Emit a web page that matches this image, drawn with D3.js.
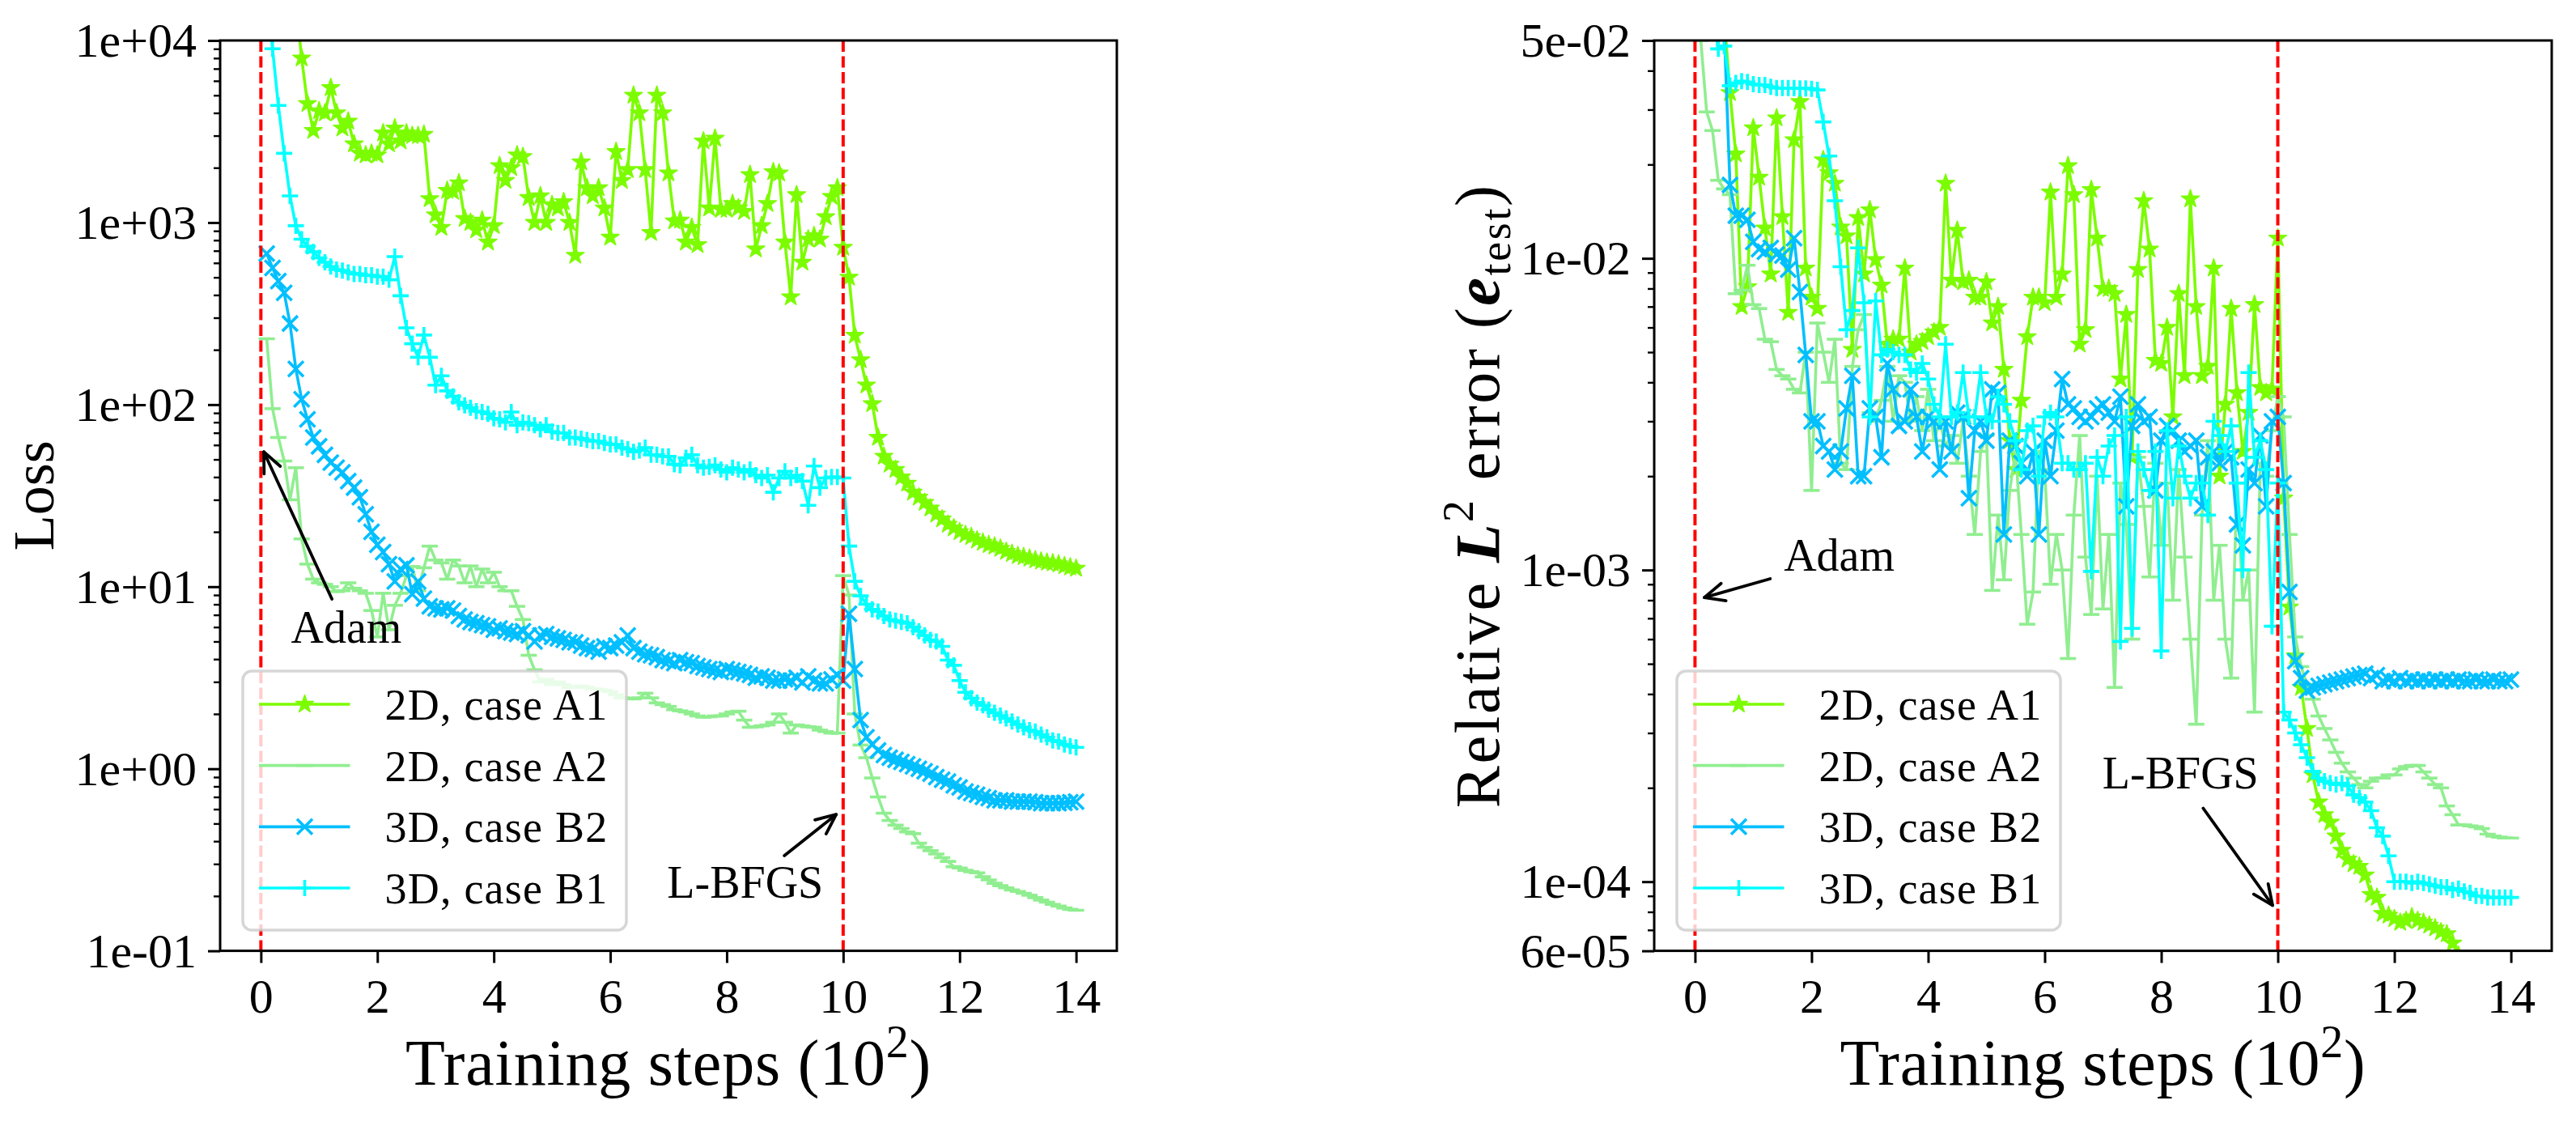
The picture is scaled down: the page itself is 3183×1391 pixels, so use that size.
<!DOCTYPE html>
<html>
<head>
<meta charset="utf-8">
<script src="https://cdn.jsdelivr.net/npm/d3@7"></script>
<style>
  html, body { margin: 0; padding: 0; background: #fff; }
  svg text { font-family: "Liberation Serif", "Times New Roman", serif; fill: #000; }
</style>
</head>
<body>
<div id="chart"></div>
<script>
// one record every 10 training steps, i.e. 0.1 in units of 10^2 steps; first record at 0.1
const STEP = 0.1;
const xTicks = [0, 2, 4, 6, 8, 10, 12, 14];
const phaseSwitch = [0, 10];
const lossTicks = [1e-1, 1e0, 1e1, 1e2, 1e3, 1e4];
const lossTickLabels = ["1e-01", "1e+00", "1e+01", "1e+02", "1e+03", "1e+04"];
const errTicks = [6e-5, 1e-4, 1e-3, 1e-2, 5e-2];
const errTickLabels = ["6e-05", "1e-04", "1e-03", "1e-02", "5e-02"];
const seriesNames = ["2D, case A1", "2D, case A2", "3D, case B2", "3D, case B1"];

// ---- Loss ----
const lossA1 = [
  90000, 60000, 45000, 35000, 25000, 16000, 8000, 4500, 3200, 4100,
  4000, 5500, 4000, 3300, 3600, 2700, 2400, 2350, 2400, 2350,
  3100, 2700, 3300, 2800, 3100, 3000, 3000, 3050, 1350, 1100,
  940, 1500, 1480, 1650, 1050, 1000, 910, 1030, 780, 960,
  2050, 1700, 2000, 2350, 2300, 1370, 1000, 1400, 1000, 1250,
  1200, 1300, 1000, 660, 2150, 1550, 1400, 1550, 1200, 830,
  2450, 1700, 1950, 5000, 4000, 1950, 880, 5000, 4000, 1870,
  1020, 1030, 780, 940, 755, 2800, 1200, 2900, 1180, 1180,
  1270, 1200, 1150, 1830, 715, 960, 1270, 1900, 1870, 780,
  390, 1420, 605, 810, 845, 810, 1075, 1390, 1550, 730,
  500, 240, 176, 128, 101, 66, 52, 47, 44, 40,
  37, 33, 31, 29, 27, 25, 23.5, 22, 21, 20,
  19.3, 18.8, 18, 17.5, 17, 16.7, 16.2, 15.6, 15.2, 14.8,
  14.6, 14.3, 14.0, 13.8, 13.6, 13.5, 13.3, 13.0, 12.8, 12.6
];
const lossA2 = [
  230, 95, 66, 49, 30, 45, 18.3, 13.3, 11, 10.5,
  10.3, 10, 9.4, 9.5, 10.5, 9.8, 9.5, 9.2, 7.4, 5.3,
  9.2, 5.8, 7.9, 9.2, 11.5, 12.9, 9.5, 12.7, 16.7, 14,
  13.5, 11, 14, 13, 10.5, 13, 10, 12.5, 10.5, 12,
  10, 9.5, 9.5, 7.8, 6.6, 4.2, 3.5, 3.0, 3.1, 2.9,
  3.0, 2.9, 2.8, 2.8, 2.85, 2.8, 2.75, 2.73, 2.7, 2.65,
  2.55, 2.45, 2.44, 2.42, 2.45, 2.6, 2.45, 2.3, 2.25, 2.2,
  2.11, 2.08, 2.05, 2.0, 1.95, 1.92, 1.93, 1.95, 1.95, 2.0,
  2.05, 2.07, 1.85, 1.69, 1.7, 1.72, 1.74, 1.8, 2.0, 1.8,
  1.57, 1.74, 1.72, 1.7, 1.69, 1.63, 1.6, 1.57, 1.57, 11.5,
  9.0, 2.0, 1.35, 1.15, 0.89, 0.70, 0.57, 0.52, 0.49, 0.47,
  0.45, 0.44, 0.39, 0.37, 0.355, 0.34, 0.325, 0.31, 0.29, 0.285,
  0.277, 0.272, 0.268, 0.255, 0.245, 0.235, 0.228, 0.222, 0.216, 0.212,
  0.207, 0.202, 0.196, 0.19, 0.185, 0.18, 0.176, 0.172, 0.169, 0.167
];
const lossB2 = [
  676, 563, 477, 411, 279, 157, 107, 83, 66, 59,
  53, 48, 45, 42.5, 38, 35, 31, 25, 20, 17,
  15.5, 13.3, 10.7, 12.5, 13.1, 9.1, 10.7, 8.6, 7.8, 7.6,
  7.5, 7.6, 7.4, 6.9, 6.6, 6.4, 6.3, 6.15, 6.05, 5.8,
  5.9, 5.7, 5.6, 5.5, 5.7, 5.4, 5.0, 5.4, 5.5, 5.3,
  5.2, 5.1, 4.95, 4.95, 4.75, 4.6, 4.55, 4.4, 4.7, 4.6,
  4.75, 4.95, 5.4, 4.6, 4.4, 4.25, 4.2, 4.1, 3.95, 3.9,
  3.8, 3.95, 3.85, 3.8, 3.67, 3.6, 3.53, 3.47, 3.4, 3.53,
  3.47, 3.4, 3.34, 3.28, 3.16, 3.22, 3.16, 3.05, 3.05, 3.1,
  3.05, 3.16, 2.98, 3.22, 3.05, 2.94, 2.94, 3.1, 3.28, 3.05,
  7.1, 3.53, 1.85, 1.49, 1.36, 1.26, 1.19, 1.15, 1.12, 1.09,
  1.06, 1.03, 1.0, 0.97, 0.94, 0.90, 0.87, 0.85, 0.81, 0.79,
  0.75, 0.735, 0.72, 0.70, 0.69, 0.67, 0.67, 0.67, 0.66, 0.66,
  0.66, 0.66, 0.655, 0.647, 0.647, 0.647, 0.647, 0.65, 0.655, 0.66
];
const lossB1 = [
  20000, 9000, 4400, 2400, 1400, 960, 810, 740, 690, 640,
  605, 573, 552, 545, 532, 522, 522, 513, 513, 505,
  505, 485, 650, 396, 264, 216, 182, 241, 182, 128,
  144, 119, 111, 103, 99, 96, 92, 91, 89, 84,
  83, 80, 91, 77, 80, 79, 77, 73, 77, 71,
  70, 70, 66, 66, 65, 64, 63, 63, 61.5, 60.5,
  60.5, 58, 57, 55, 56, 58, 53, 53, 52, 52,
  47, 46.5, 51, 53, 46.5, 45, 45.5, 46.5, 44, 42.5,
  45, 44, 42.5, 44, 41, 39.5, 41, 33, 39.5, 43,
  39.5, 41, 38, 28, 46, 35, 39.5, 40, 40, 39.5,
  16.7, 10.7, 8.9, 8.0, 7.5, 7.3, 6.9, 6.6, 6.5, 6.4,
  6.3, 6.0, 5.7, 5.4, 5.1, 5.0, 4.7, 3.95, 3.7, 3.05,
  2.63, 2.44, 2.31, 2.23, 2.11, 2.03, 1.96, 1.89, 1.82, 1.75,
  1.69, 1.63, 1.6, 1.54, 1.49, 1.43, 1.41, 1.36, 1.33, 1.31
];

// ---- Relative L2 error ----
const errA1 = [
  0.2, 0.15, 0.1, 0.08, 0.06, 0.034, 0.0216, 0.0070, 0.0081, 0.0262,
  0.0182, 0.0125, 0.0089, 0.0282, 0.0136, 0.0067, 0.024, 0.0318, 0.0093, 0.0075,
  0.0069, 0.0207, 0.0188, 0.0174, 0.0126, 0.0118, 0.0051, 0.0135, 0.0089, 0.0143,
  0.0099, 0.0082, 0.0053, 0.0055, 0.0055, 0.0093, 0.0050, 0.0053, 0.0054, 0.0056,
  0.0058, 0.0060, 0.0174, 0.0085, 0.0123, 0.0084, 0.0085, 0.0075, 0.0075, 0.0084,
  0.0062, 0.0070, 0.0044, 0.0026, 0.0021, 0.0035, 0.0056, 0.0075, 0.0075, 0.0072,
  0.0163, 0.0075, 0.0089, 0.0198, 0.0160, 0.0053, 0.0059, 0.0166, 0.0116, 0.0080,
  0.0080, 0.0077, 0.0041, 0.0066, 0.0023, 0.0092, 0.0153, 0.0107, 0.0047, 0.0046,
  0.0060, 0.0031, 0.0077, 0.0042, 0.0155, 0.0070, 0.0042, 0.0045, 0.0093, 0.0020,
  0.0034, 0.0069, 0.0037, 0.0024, 0.0032, 0.0071, 0.00385, 0.0037, 0.0038, 0.0116,
  0.0017, 7.6e-4, 5.3e-4, 4.2e-4, 3.1e-4, 2.2e-4, 1.8e-4, 1.64e-4, 1.55e-4, 1.4e-4,
  1.26e-4, 1.18e-4, 1.14e-4, 1.12e-4, 1.05e-4, 9.1e-5, 8.9e-5, 7.9e-5, 7.8e-5, 7.6e-5,
  7.4e-5, 7.5e-5, 7.7e-5, 7.5e-5, 7.4e-5, 7.25e-5, 7.1e-5, 6.9e-5, 6.8e-5, 6.35e-5,
  5.8e-5, 5.4e-5
];
const errA2 = [
  0.05, 0.0295, 0.0257, 0.0178, 0.0167, 0.016, 0.0077, 0.0079, 0.0095, 0.0071,
  0.0069, 0.0055, 0.0054, 0.0044, 0.0042, 0.0041, 0.0038, 0.0037, 0.0050, 0.0018,
  0.0062, 0.0050, 0.0040, 0.0055, 0.0022, 0.0021, 0.0045, 0.0059, 0.0066, 0.0032,
  0.0030, 0.0035, 0.0045, 0.0030, 0.0042, 0.0040, 0.0030, 0.0036, 0.0028, 0.0038,
  0.0026, 0.0030, 0.0025, 0.0027, 0.0022, 0.0030, 0.0020, 0.0013, 0.0024, 0.0027,
  0.00086, 0.0015, 0.00093, 0.0018, 0.0024, 0.0013, 0.00067, 0.00085, 0.0024, 0.0021,
  0.00090, 0.0013, 0.0010, 0.00052, 0.0015, 0.0027, 0.0011, 0.00072, 0.0020, 0.00075,
  0.0013, 0.00042, 0.0019, 0.0014, 0.00060, 0.0023, 0.0016, 0.00095, 0.0022, 0.0012,
  0.0019, 0.00080, 0.0021, 0.0011, 0.00060, 0.00032, 0.0015, 0.0026, 0.00080, 0.0012,
  0.00060, 0.00045, 0.0019, 0.00080, 0.0010, 0.00035, 0.0022, 0.0020, 0.0028, 0.0036,
  0.0031, 0.0013, 6.1e-4, 4.9e-4, 4.3e-4, 3.85e-4, 3.4e-4, 3.1e-4, 2.85e-4, 2.6e-4,
  2.4e-4, 2.25e-4, 2.15e-4, 2.05e-4, 2.0e-4, 2.1e-4, 2.15e-4, 2.15e-4, 2.2e-4, 2.2e-4,
  2.3e-4, 2.34e-4, 2.36e-4, 2.36e-4, 2.25e-4, 2.15e-4, 2.05e-4, 2.0e-4, 1.75e-4, 1.64e-4,
  1.52e-4, 1.52e-4, 1.51e-4, 1.5e-4, 1.48e-4, 1.42e-4, 1.4e-4, 1.39e-4, 1.38e-4, 1.38e-4
];
const errB2 = [
  0.09, 0.08, 0.07, 0.065, 0.055, 0.0172, 0.0137, 0.0137, 0.0133, 0.0113,
  0.0107, 0.0105, 0.0108, 0.0103, 0.0102, 0.0092, 0.0116, 0.0078, 0.0049, 0.0030,
  0.0030, 0.0025, 0.0024, 0.0021, 0.0024, 0.0033, 0.0042, 0.0020, 0.0020, 0.0033,
  0.0031, 0.0023, 0.0046, 0.0038, 0.0029, 0.0030, 0.0038, 0.0031, 0.0024, 0.0031,
  0.0030, 0.0021, 0.0030, 0.0024, 0.0032, 0.0031, 0.0017, 0.0028, 0.0030, 0.0026,
  0.0038, 0.0037, 0.0013, 0.0026, 0.0025, 0.0022, 0.0020, 0.0024, 0.0013, 0.0026,
  0.0020, 0.0028, 0.0041, 0.0034, 0.0033, 0.0031, 0.0030, 0.0031, 0.0033, 0.0034,
  0.0032, 0.0030, 0.0036, 0.0016, 0.0029, 0.0034, 0.0030, 0.0031, 0.0018, 0.0026,
  0.0029, 0.0028, 0.0026, 0.0024, 0.0025, 0.0026, 0.0016, 0.0023, 0.0024, 0.0022,
  0.0024, 0.0023, 0.0014, 0.0012, 0.0021, 0.0019, 0.0027, 0.0016, 0.0030, 0.0031,
  0.0019, 8.5e-4, 5.1e-4, 4.5e-4, 4.1e-4, 4.2e-4, 4.25e-4, 4.3e-4, 4.35e-4, 4.4e-4,
  4.45e-4, 4.5e-4, 4.55e-4, 4.6e-4, 4.65e-4, 4.5e-4, 4.6e-4, 4.4e-4, 4.45e-4, 4.4e-4,
  4.5e-4, 4.4e-4, 4.45e-4, 4.4e-4, 4.45e-4, 4.4e-4, 4.45e-4, 4.4e-4, 4.45e-4, 4.4e-4,
  4.45e-4, 4.4e-4, 4.4e-4, 4.45e-4, 4.4e-4, 4.4e-4, 4.45e-4, 4.4e-4, 4.4e-4, 4.45e-4
];
const errB1 = [
  0.1, 0.08, 0.06, 0.047, 0.048, 0.0358, 0.0365, 0.037, 0.0368, 0.0362,
  0.036, 0.036, 0.0355, 0.0352, 0.0352, 0.0352, 0.0352, 0.0351, 0.0351, 0.035,
  0.0347, 0.0274, 0.0213, 0.0153, 0.0094, 0.0059, 0.0068, 0.0108, 0.0072, 0.0031,
  0.0073, 0.0049, 0.0051, 0.0050, 0.0049, 0.0049, 0.0044, 0.0043, 0.0046, 0.0041,
  0.0034, 0.0031, 0.0053, 0.0031, 0.0032, 0.0043, 0.0031, 0.0031, 0.0043, 0.0031,
  0.0030, 0.0036, 0.0034, 0.0030, 0.0026, 0.0021, 0.0028, 0.0029, 0.0020, 0.0031,
  0.0032, 0.0031, 0.0022, 0.0022, 0.0021, 0.0021, 0.0022, 0.00099, 0.0023, 0.0020,
  0.0025, 0.0027, 0.00059, 0.0031, 0.00065, 0.0024, 0.0021, 0.0018, 0.0024, 0.00055,
  0.0028, 0.0017, 0.0025, 0.0020, 0.0017, 0.0019, 0.0019, 0.0015, 0.0030, 0.0027,
  0.0024, 0.0029, 0.0019, 0.0010, 0.0043, 0.0023, 0.0026, 0.0021, 0.00066, 0.0019,
  3.5e-4, 3.3e-4, 3.0e-4, 2.75e-4, 2.5e-4, 2.26e-4, 2.15e-4, 2.1e-4, 2.07e-4, 2.05e-4,
  2.07e-4, 2.03e-4, 1.9e-4, 1.86e-4, 1.8e-4, 1.69e-4, 1.49e-4, 1.4e-4, 1.21e-4, 1.0e-4,
  1.0e-4, 1.0e-4, 9.9e-5, 1.0e-4, 9.9e-5, 9.8e-5, 9.7e-5, 9.6e-5, 9.6e-5, 9.4e-5,
  9.5e-5, 9.3e-5, 9.2e-5, 9.0e-5, 9.0e-5, 8.9e-5, 8.9e-5, 8.9e-5, 8.9e-5, 8.9e-5
];

// line styles, in legend order
const styles = [
  { color: "#7CFC00", marker: "star" },
  { color: "#90EE90", marker: "hline" },
  { color: "#00BFFF", marker: "cross" },
  { color: "#00FFFF", marker: "plus" }
];

const W = 3183, H = 1391;
const TICK_FONT = 60;

const panels = [
  {
    left: 272, right: 1380, top: 50, bottom: 1174.6,
    yDomain: [1e-1, 1e4], ticks: lossTicks, tickLabels: lossTickLabels,
    series: [lossA1, lossA2, lossB2, lossB1],
    ylabelX: 66,
    notes: [
      { text: "Adam", at: [1.467, 4.92], tail: [1.22, 8.55], head: [0.05, 55] },
      { text: "L-BFGS", at: [8.317, 0.195], tail: [8.99, 0.333], head: [9.88, 0.561] }
    ]
  },
  {
    left: 2044, right: 3153, top: 50, bottom: 1174.6,
    yDomain: [6e-5, 5e-2], ticks: errTicks, tickLabels: errTickLabels,
    series: [errA1, errA2, errB2, errB1],
    ylabelX: 1852,
    notes: [
      { text: "Adam", at: [2.474, 9.92e-4], tail: [1.29, 9.37e-4], head: [0.16, 8.16e-4] },
      { text: "L-BFGS", at: [8.33, 1.99e-4], tail: [8.72, 1.72e-4], head: [9.91, 8.4e-5] }
    ]
  }
];

const svg = d3.select("#chart").append("svg")
  .attr("width", W)
  .attr("height", H)
  .attr("viewBox", `0 0 ${W} ${H}`);

svg.append("rect").attr("width", W).attr("height", H).attr("fill", "#fff");

function markerPath(kind) {
  if (kind === "star") return d3.symbol(d3.symbolStar, 150)();
  if (kind === "plus") return "M-10,0H10M0,-10V10";
  if (kind === "cross") return "M-9.5,-9.5L9.5,9.5M-9.5,9.5L9.5,-9.5";
  return "M-10,0H10";
}

function drawMarkers(sel, style) {
  sel.attr("d", markerPath(style.marker))
    .attr("fill", style.marker === "star" ? style.color : "none")
    .attr("stroke", style.color)
    .attr("stroke-width", style.marker === "star" ? 1.5 : 3.6)
    .attr("stroke-linejoin", "round");
}

// stretch a text's letter spacing so it covers the width the reference shows
function fitWidth(sel, target) {
  const natural = sel.node().getComputedTextLength();
  const chars = sel.text().length;
  sel.attr("letter-spacing", ((target - natural) / chars).toFixed(2));
}

panels.forEach((p, pi) => {
  const x = d3.scaleLinear().domain([-0.7, 14.7]).range([p.left, p.right]);
  const y = d3.scaleLog().domain(p.yDomain).range([p.bottom, p.top]);
  const g = svg.append("g");

  const clipId = "clip" + pi;
  svg.append("clipPath").attr("id", clipId)
    .append("rect")
    .attr("x", p.left).attr("y", p.top)
    .attr("width", p.right - p.left).attr("height", p.bottom - p.top);

  const plot = g.append("g").attr("clip-path", `url(#${clipId})`);

  // data series
  p.series.forEach((vals, si) => {
    const st = styles[si];
    const pts = vals.map((v, i) => [STEP * (i + 1), v]);
    const sg = plot.append("g");
    sg.append("path")
      .datum(pts)
      .attr("fill", "none")
      .attr("stroke", st.color)
      .attr("stroke-width", 3.6)
      .attr("stroke-linejoin", "round")
      .attr("d", d3.line().x(d => x(d[0])).y(d => y(d[1])));
    sg.selectAll("path.m")
      .data(pts)
      .join("path")
      .attr("class", "m")
      .attr("transform", d => `translate(${x(d[0])},${y(d[1])})`)
      .call(drawMarkers, st);
  });

  // optimizer switch lines
  plot.selectAll("line.switch")
    .data(phaseSwitch)
    .join("line")
    .attr("class", "switch")
    .attr("x1", d => x(d)).attr("x2", d => x(d))
    .attr("y1", p.top).attr("y2", p.bottom)
    .attr("stroke", "#ff0000")
    .attr("stroke-width", 4)
    .attr("stroke-dasharray", "14,5.5");

  // annotations
  p.notes.forEach(n => {
    const hx = x(n.head[0]), hy = y(n.head[1]);
    const tx = x(n.tail[0]), ty = y(n.tail[1]);
    const ang = Math.atan2(hy - ty, hx - tx);
    const len = 27, spread = 0.42;
    g.append("line")
      .attr("x1", tx).attr("y1", ty).attr("x2", hx).attr("y2", hy)
      .attr("stroke", "#000").attr("stroke-width", 3.8).attr("stroke-linecap", "round");
    g.append("path")
      .attr("d", `M${hx - len * Math.cos(ang - spread)},${hy - len * Math.sin(ang - spread)}L${hx},${hy}L${hx - len * Math.cos(ang + spread)},${hy - len * Math.sin(ang + spread)}`)
      .attr("fill", "none").attr("stroke", "#000").attr("stroke-width", 3.8)
      .attr("stroke-linecap", "round").attr("stroke-linejoin", "round");
    g.append("text")
      .attr("x", x(n.at[0])).attr("y", y(n.at[1]))
      .attr("text-anchor", "middle")
      .attr("font-size", 56)
      .text(n.text);
  });

  // legend
  const lg = g.append("g");
  const lx = p.left + 28;
  lg.append("rect")
    .attr("x", lx).attr("y", 829)
    .attr("width", 474).attr("height", 320)
    .attr("rx", 11)
    .attr("fill", "#fff").attr("fill-opacity", 0.8)
    .attr("stroke", "#cccccc").attr("stroke-opacity", 0.8)
    .attr("stroke-width", 3.5);
  const rowY = d3.scalePoint().domain(seriesNames).range([870, 1097]);
  seriesNames.forEach((name, si) => {
    const st = styles[si];
    const ry = rowY(name);
    lg.append("line")
      .attr("x1", p.left + 48).attr("x2", p.left + 160.5)
      .attr("y1", ry).attr("y2", ry)
      .attr("stroke", st.color).attr("stroke-width", 3.6);
    lg.append("path")
      .attr("transform", `translate(${p.left + 104.5},${ry})`)
      .call(drawMarkers, st);
    const t = lg.append("text")
      .attr("x", p.left + 203.5).attr("y", ry + 19)
      .attr("font-size", 54)
      .text(name);
    fitWidth(t, 276);
  });

  // frame
  g.append("rect")
    .attr("x", p.left).attr("y", p.top)
    .attr("width", p.right - p.left).attr("height", p.bottom - p.top)
    .attr("fill", "none").attr("stroke", "#000").attr("stroke-width", 3);

  // x axis
  const xAxis = g.append("g")
    .attr("transform", `translate(0,${p.bottom})`)
    .call(d3.axisBottom(x).tickValues(xTicks).tickSizeInner(15).tickSizeOuter(0).tickPadding(18).tickFormat(d3.format("d")));
  xAxis.select(".domain").remove();
  xAxis.selectAll(".tick line").attr("stroke-width", 3);
  xAxis.selectAll(".tick text")
    .attr("font-size", TICK_FONT)
    .attr("font-family", "Liberation Serif")
    .attr("dy", "0.72em");

  // y axis, major ticks
  const yAxis = g.append("g")
    .attr("transform", `translate(${p.left},0)`)
    .call(d3.axisLeft(y).tickValues(p.ticks).tickSizeInner(15).tickSizeOuter(0).tickPadding(14)
      .tickFormat((d, i) => p.tickLabels[i]));
  yAxis.select(".domain").remove();
  yAxis.selectAll(".tick line").attr("stroke-width", 3);
  yAxis.selectAll(".tick text")
    .attr("font-size", TICK_FONT)
    .attr("font-family", "Liberation Serif")
    .attr("dy", "0.33em");

  // y axis, minor ticks
  const minor = y.ticks().filter(v => !p.ticks.some(t => Math.abs(t - v) / t < 1e-6));
  const yMinor = g.append("g")
    .attr("transform", `translate(${p.left},0)`)
    .call(d3.axisLeft(y).tickValues(minor).tickSizeInner(8).tickSizeOuter(0).tickFormat(""));
  yMinor.select(".domain").remove();
  yMinor.selectAll(".tick line").attr("stroke-width", 2.4);

  // x label
  const xl = g.append("text")
    .attr("x", (p.left + p.right) / 2).attr("y", 1340)
    .attr("text-anchor", "middle")
    .attr("font-size", 80);
  xl.append("tspan").text("Training steps (10");
  xl.append("tspan").attr("font-size", 56).attr("dy", -34).text("2");
  xl.append("tspan").attr("dy", 34).text(")");
  fitWidth(xl, 650);

  // y label
  const yl = g.append("text")
    .attr("transform", `translate(${p.ylabelX},${(p.top + p.bottom) / 2}) rotate(-90)`)
    .attr("text-anchor", "middle");
  if (pi === 0) {
    yl.attr("font-size", 72).text("Loss");
  } else {
    yl.attr("font-size", 78);
    yl.append("tspan").text("Relative ");
    yl.append("tspan").attr("font-style", "italic").attr("font-weight", "bold").text("L");
    yl.append("tspan").attr("font-size", 54).attr("dy", -32).text("2");
    yl.append("tspan").attr("dy", 32).text(" error (");
    yl.append("tspan").attr("font-style", "italic").attr("font-weight", "bold").text("e");
    yl.append("tspan").attr("font-size", 54).attr("dy", 14).text("test");
    yl.append("tspan").attr("dy", -14).text(")");
    fitWidth(yl, 772);
  }
});
</script>
</body>
</html>
